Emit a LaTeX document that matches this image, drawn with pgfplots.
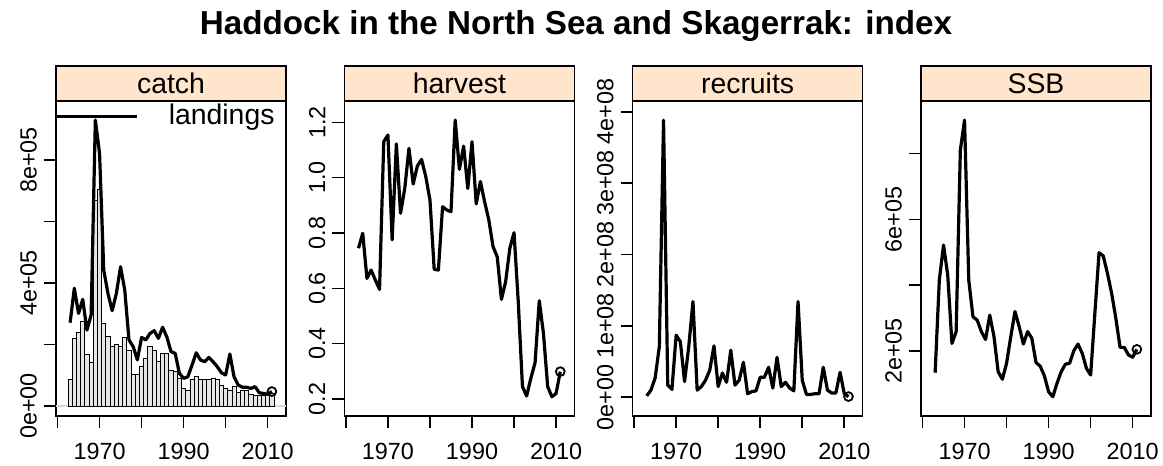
\documentclass[border=0pt]{standalone}
\usepackage{fontspec}
\setmainfont{Liberation Sans}
\usepackage{pgfplots}
\usepackage{pgfplotstable}
\pgfplotsset{compat=1.18}
\definecolor{stripbg}{HTML}{FFE5CC}
\definecolor{barfill}{HTML}{E6E6E6}
\newcommand\tickfont{\fontsize{11.7}{13}\selectfont}
\newcommand\stripfont{\fontsize{14.2}{16}\selectfont}

% land, catch and ssb in 1e5, rec in 1e8
\pgfplotstableread{
year land catch harv rec ssb
1963 2.71 0.85 0.745 0.02 1.34
1964 3.83 2.20 0.799 0.10 4.16
1965 3.01 2.38 0.636 0.27 5.22
1966 3.47 2.74 0.666 0.71 4.31
1967 2.47 1.69 0.630 3.88 2.23
1968 2.96 1.41 0.596 0.17 2.59
1969 9.30 6.70 1.130 0.11 8.11
1970 8.22 7.05 1.154 0.87 9.02
1971 4.42 2.69 0.775 0.78 4.16
1972 3.66 2.25 1.122 0.22 3.04
1973 3.10 1.93 0.871 0.71 2.94
1974 3.66 2.01 0.961 1.34 2.59
1975 4.53 1.93 1.106 0.10 2.35
1976 3.77 2.23 0.977 0.15 3.09
1977 2.15 1.82 1.042 0.24 2.44
1978 1.93 1.04 1.066 0.38 1.37
1979 1.50 1.04 1.004 0.72 1.14
1980 2.23 1.28 0.919 0.15 1.63
1981 2.15 1.55 0.669 0.34 2.44
1982 2.36 1.93 0.666 0.21 3.20
1983 2.45 1.80 0.895 0.66 2.74
1984 2.20 1.44 0.883 0.17 2.21
1985 2.56 1.71 0.877 0.24 2.59
1986 2.25 1.71 1.208 0.49 2.39
1987 1.77 1.17 1.030 0.05 1.65
1988 1.71 1.12 1.114 0.08 1.54
1989 1.06 0.90 0.961 0.09 1.24
1990 0.90 0.57 1.130 0.28 0.76
1991 0.95 0.52 0.905 0.28 0.61
1992 1.33 0.85 0.986 0.42 1.02
1993 1.73 0.95 0.913 0.13 1.37
1994 1.50 0.87 0.847 0.56 1.60
1995 1.44 0.87 0.751 0.15 1.63
1996 1.58 0.87 0.714 0.21 2.01
1997 1.44 0.90 0.560 0.13 2.21
1998 1.28 0.85 0.624 0.09 1.93
1999 1.08 0.68 0.745 1.34 1.47
2000 1.01 0.57 0.801 0.24 1.27
2001 1.69 0.52 0.552 0.04 3.14
2002 0.95 0.63 0.245 0.04 4.99
2003 0.68 0.44 0.211 0.05 4.89
2004 0.61 0.52 0.275 0.05 4.36
2005 0.61 0.50 0.331 0.42 3.75
2006 0.57 0.39 0.555 0.10 2.99
2007 0.63 0.33 0.437 0.06 2.11
2008 0.43 0.33 0.245 0.06 2.11
2009 0.41 0.33 0.208 0.35 1.88
2010 0.38 0.41 0.220 0.05 1.81
2011 0.47 0.41 0.299 0.01 2.05
}\data

\pgfplotsset{
  panel/.style={
    scale only axis, width=115pt, height=157.5pt,
    xmin=1959.64, xmax=2014.36,
    xtick={1960,1970,...,2010},
    xticklabels={,1970,,1990,,2010},
    tick align=outside, major tick length=6pt,
    xtick pos=bottom, ytick pos=left,
    axis line style={line width=0.8pt},
    every tick/.style={black, line width=0.8pt},
    ticklabel style={font=\tickfont},
    xticklabel style={yshift=-4pt},
    yticklabel style={rotate=90, anchor=south},
    /pgf/number format/assume math mode=true,
    scaled ticks=false,
    clip=false,
  },
  dline/.style={black, line width=1.6pt, line join=round, mark=none},
  lastpt/.style={only marks, mark=o, mark size=2.2pt, mark options={line width=0.9pt}},
}
\newcommand\strip[1]{%
  \draw[fill=stripbg, line width=0.8pt] (rel axis cs:0,1) rectangle ([yshift=17.5pt]rel axis cs:1,1);
  \node[font=\stripfont] at ([yshift=8.75pt]rel axis cs:0.5,1) {#1};
}

\begin{document}
\begin{tikzpicture}
\path[use as bounding box] (0,0) rectangle (581.5pt,233pt);
\node[font=\fontsize{16.6}{18}\selectfont\bfseries] at (288pt,220pt) {Haddock in the North Sea and Skagerrak: index};

% catch
\begin{axis}[panel, at={(28pt,25pt)}, anchor=south west,
  ymin=-0.325, ymax=9.92,
  ytick={0,2,4,6,8}, yticklabels={0e+00,,4e+05,,8e+05}]
\addplot[gray!30, line width=0.8pt] coordinates {(1959.64,0) (2014.36,0)};
\addplot[ybar, bar width=1, bar shift=0, fill=barfill, draw=black, line width=0.4pt]
  table[x=year, y=catch] {\data};
\addplot[dline] table[x=year, y=land] {\data};
\addplot[lastpt] coordinates {(2011,0.47)};
\draw[line width=1.6pt] (rel axis cs:0,0.95) -- (rel axis cs:0.352,0.95);
\node[font=\stripfont, anchor=base east, inner sep=0pt] at (rel axis cs:0.952,0.924) {landings};
\strip{catch}
\end{axis}

% harvest
\begin{axis}[panel, at={(172.2pt,25pt)}, anchor=south west,
  ymin=0.1386, ymax=1.277,
  ytick={0.2,0.4,...,1.2}, yticklabels={0.2,0.4,0.6,0.8,1.0,1.2}]
\addplot[dline] table[x=year, y=harv] {\data};
\addplot[lastpt] coordinates {(2011,0.299)};
\strip{harvest}
\end{axis}

% recruits
\begin{axis}[panel, at={(316.3pt,25pt)}, anchor=south west,
  ymin=-0.262, ymax=4.15,
  ytick={0,1,2,3,4}, yticklabels={0e+00,1e+08,2e+08,3e+08,4e+08}]
\addplot[dline] table[x=year, y=rec] {\data};
\addplot[lastpt] coordinates {(2011,0.01)};
\strip{recruits}
\end{axis}

% SSB
\begin{axis}[panel, at={(460.5pt,25pt)}, anchor=south west,
  ymin=0.024, ymax=9.60,
  ytick={2,4,6,8}, yticklabels={2e+05,,6e+05,}]
\addplot[dline] table[x=year, y=ssb] {\data};
\addplot[lastpt] coordinates {(2011,2.05)};
\strip{SSB}
\end{axis}
\end{tikzpicture}
\end{document}
